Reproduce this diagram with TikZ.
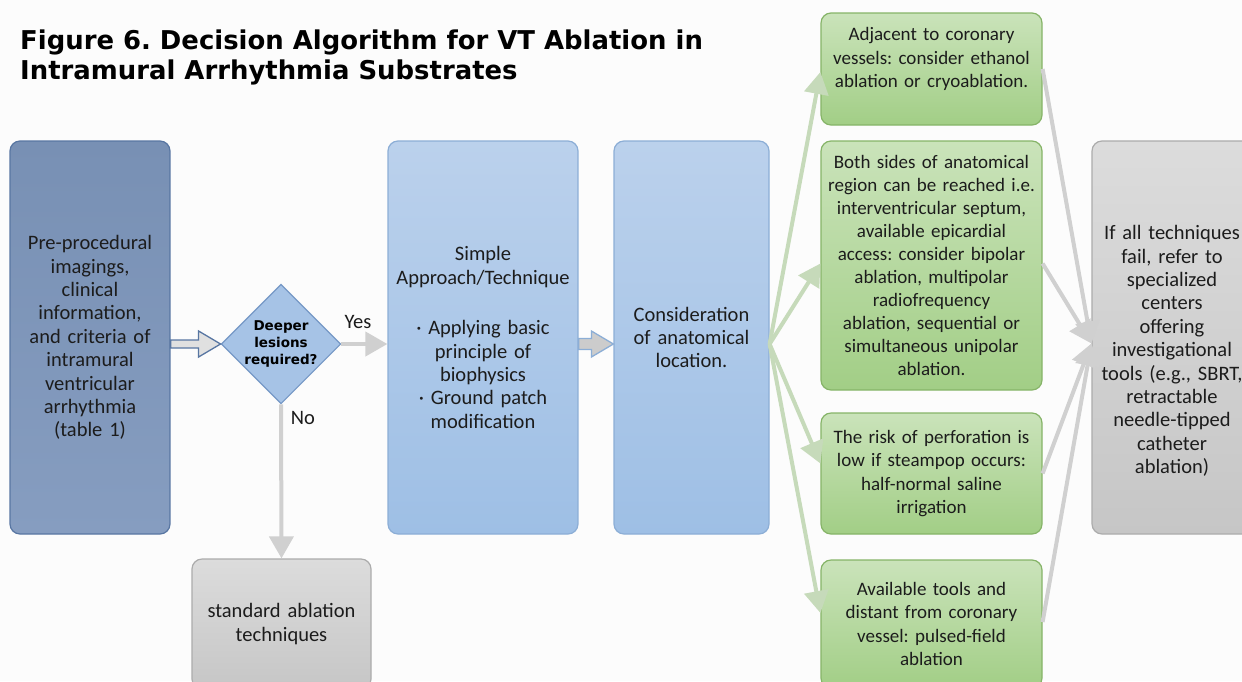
\documentclass[tikz,border=0pt]{standalone}
\usepackage{fontspec}
\setmainfont{Carlito}
\newfontfamily\verd{DejaVu Sans}
\usetikzlibrary{shapes.geometric,arrows.meta,calc}
\frenchspacing
\definecolor{bgc}{RGB}{252,252,252}
\definecolor{dbtop}{RGB}{120,144,180}
\definecolor{dbbot}{RGB}{134,157,192}
\definecolor{dbdraw}{RGB}{88,118,162}
\definecolor{lbtop}{RGB}{187,209,236}
\definecolor{lbbot}{RGB}{158,191,229}
\definecolor{lbdraw}{RGB}{140,174,214}
\definecolor{diafill}{RGB}{166,195,230}
\definecolor{diadraw}{RGB}{118,152,198}
\definecolor{grtop}{RGB}{202,227,186}
\definecolor{grbot}{RGB}{162,206,134}
\definecolor{grdraw}{RGB}{134,180,104}
\definecolor{gytop}{RGB}{220,220,220}
\definecolor{gybot}{RGB}{198,198,198}
\definecolor{gydraw}{RGB}{172,172,172}
\definecolor{congreen}{RGB}{198,218,186}
\definecolor{congray}{RGB}{208,208,208}
\definecolor{txt}{RGB}{28,28,28}
\begin{document}
\begin{tikzpicture}[x=1pt,y=-1pt,
  font=\fontsize{20.5}{23.4}\selectfont,
  box/.style={rounded corners=10pt, line width=1.2pt, inner sep=0pt, align=center, text=txt},
  darkbox/.style={box, draw=dbdraw, top color=dbtop, bottom color=dbbot},
  lightbox/.style={box, draw=lbdraw, top color=lbtop, bottom color=lbbot},
  greenbox/.style={box, draw=grdraw, top color=grtop, bottom color=grbot, minimum width=221pt, text width=219pt, font=\fontsize{19}{23.1}\selectfont},
  graybox/.style={box, draw=gydraw, top color=gytop, bottom color=gybot},
  plain/.style={inner sep=0pt, align=center, text=txt},
  gcon/.style={draw=congreen, line width=4pt, -{Triangle[length=22pt,width=24pt]}},
  ycon/.style={draw=congray, line width=4pt, -{Triangle[length=22pt,width=24pt]}},
  hollowa/.style={line width=1.3pt, draw=dbdraw, fill=black!12!white, line join=miter},
  hollowb/.style={line width=1.3pt, draw=lbdraw, fill=black!20!white, line join=miter}
]
\useasboundingbox[fill=bgc] (0,0) rectangle (1242,681);

\node[plain, anchor=north west, align=left, font=\verd\bfseries\fontsize{25.9}{30}\selectfont, text=black] (title) at (20,30)
  {Figure 6. Decision Algorithm for VT Ablation in\\Intramural Arrhythmia Substrates};

\node[darkbox, minimum width=160pt, minimum height=393pt, text width=158pt] (b1) at (90,337.5)
  {Pre-procedural\\imagings,\\clinical\\information,\\and criteria of\\intramural\\ventricular\\arrhythmia\\(table 1)};

\node[diamond, aspect=1, draw=diadraw, fill=diafill, line width=1.2pt, inner sep=0pt, minimum width=118pt, align=center, font=\verd\bfseries\fontsize{13.5}{17}\selectfont, text=black] (dia) at (281,344)
  {Deeper\\lesions\\required?};

\node[graybox, minimum width=179pt, minimum height=130pt, text width=177pt] (std) at (281.5,624)
  {standard ablation\\techniques};

\node[lightbox, minimum width=190pt, minimum height=393pt, text width=188pt] (simple) at (483,337.5)
  {Simple\\Approach/Technique\\[27pt]· Applying basic\\principle of\\biophysics\\· Ground patch\\modification};

\node[lightbox, minimum width=155pt, minimum height=393pt, text width=153pt] (cons) at (691.5,337.5)
  {Consideration\\of anatomical\\location.};

\node[greenbox, minimum height=112pt] (g1) at (931.5,69) {};
\node[plain, text width=219pt, font=\fontsize{19}{23.1}\selectfont] (g1t) at (931.5,59)
  {Adjacent to coronary\\vessels: consider ethanol\\ablation or cryoablation.};

\node[greenbox, minimum height=249pt] (g2) at (931.5,265.5)
  {Both sides of anatomical\\region can be reached i.e.\\interventricular septum,\\available epicardial\\access: consider bipolar\\ablation, multipolar\\radiofrequency\\ablation, sequential or\\simultaneous unipolar\\ablation.};

\node[greenbox, minimum height=121pt] (g3) at (931.5,473.5)
  {The risk of perforation is\\low if steampop occurs:\\half-normal saline\\irrigation};

\node[greenbox, minimum height=128pt] (g4) at (931.5,624)
  {Available tools and\\distant from coronary\\vessel: pulsed-field\\ablation};

\node[graybox, minimum width=160pt, minimum height=393pt] (fin) at (1172,337.5) {};
\node[plain, text width=158pt] (fint) at (1172,351)
  {If all techniques\\fail, refer to\\specialized\\centers\\offering\\investigational\\tools (e.g., SBRT,\\retractable\\needle-tipped\\catheter\\ablation)};

% hollow block arrows
\coordinate (ha) at (b1.east |- dia.west);
\draw[hollowa] ($(ha)+(0,-4)$) -- ($(dia.west)+(-22,-4)$) -- ($(dia.west)+(-22,-13)$) -- (dia.west)
  -- ($(dia.west)+(-22,13)$) -- ($(dia.west)+(-22,4)$) -- ($(ha)+(0,4)$) -- cycle;
\coordinate (hb) at (simple.east |- dia.west);
\coordinate (hc) at (cons.west |- dia.west);
\draw[hollowb] ($(hb)+(0,-5.5)$) -- ($(hc)+(-22,-5.5)$) -- ($(hc)+(-22,-13)$) -- (hc)
  -- ($(hc)+(-22,13)$) -- ($(hc)+(-22,5.5)$) -- ($(hb)+(0,5.5)$) -- cycle;

% yes / no
\draw[ycon] (dia.east) -- (simple.west |- dia.east);
\draw[ycon] (dia.south) -- (std.north);
\node[plain] (yes) at (358,322) {Yes};
\node[plain] (no) at (303,418) {No};

% fan-out
\coordinate (fo) at (cons.east |- dia.west);
\draw[gcon] (fo) -- ($(g1.west)+(0,3)$);
\draw[gcon] (fo) -- ($(g2.west)+(0,-2)$);
\draw[gcon] (fo) -- ($(g3.west)+(0,-10)$);
\draw[gcon] (fo) -- ($(g4.west)+(0,-11)$);

% fan-in
\coordinate (fi) at ($(fin.west)+(0,6)$);
\draw[ycon] (g1.east) -- (fi);
\draw[ycon] ($(g2.east)+(0,-2)$) -- (fi);
\draw[ycon] (g3.east) -- (fi);
\draw[ycon] ($(g4.east)+(0,-2)$) -- (fi);
\end{tikzpicture}
\end{document}
